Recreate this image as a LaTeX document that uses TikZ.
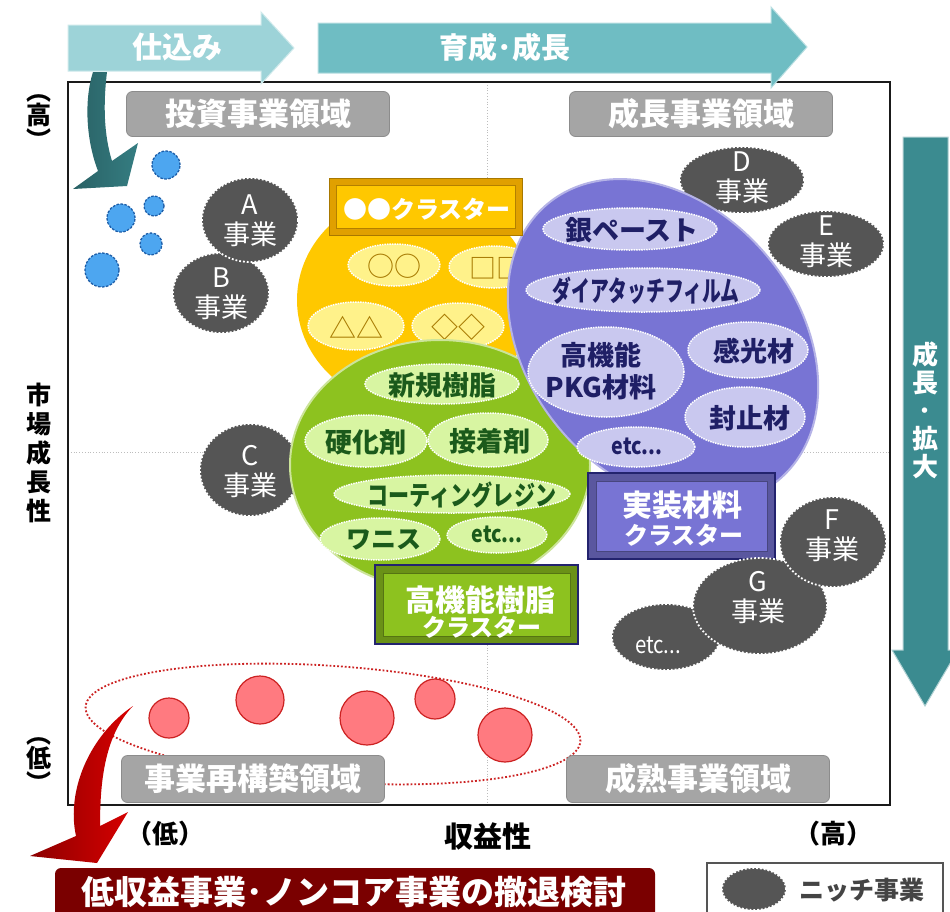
\documentclass[tikz,border=0pt]{standalone}
\usepackage{fontspec}
\setmainfont{Noto Sans CJK JP}
\usetikzlibrary{shapes.geometric}
\definecolor{frameblack}{HTML}{1A1A1A}
\definecolor{guide}{HTML}{BDBDBD}
\definecolor{arrowA}{HTML}{9DD3D8}
\definecolor{arrowB}{HTML}{6FBDC3}
\definecolor{arrowC}{HTML}{3B8B90}
\definecolor{regiongray}{HTML}{A5A5A5}
\definecolor{nichegray}{HTML}{555555}
\definecolor{bluedot}{HTML}{4DA6F0}
\definecolor{bluedotline}{HTML}{1E5EA8}
\definecolor{reddot}{HTML}{FF7A80}
\definecolor{reddotline}{HTML}{CC2222}
\definecolor{yellowbig}{HTML}{FFC800}
\definecolor{yellowin}{HTML}{FFF28A}
\definecolor{yellowtext}{HTML}{A67800}
\definecolor{yellowbox}{HTML}{E0A000}
\definecolor{greenbig}{HTML}{8DC21F}
\definecolor{greenin}{HTML}{D8F5A2}
\definecolor{greentext}{HTML}{1B5A1B}
\definecolor{purplebig}{HTML}{7874D4}
\definecolor{purplein}{HTML}{C9C8EF}
\definecolor{purpletext}{HTML}{1F1F66}
\definecolor{navy}{HTML}{23236E}
\definecolor{darkred}{HTML}{7A0000}
\begin{document}
\begin{tikzpicture}[x=1pt,y=-1pt,
  fs/.style 2 args={font=\fontsize{#1}{#2}\selectfont},
  fsb/.style 2 args={font=\fontsize{#1}{#2}\selectfont\bfseries},
  region/.style={fill=regiongray, draw=regiongray!85!black, line width=0.8pt, rounded corners=6pt, text=white, minimum width=263, minimum height=45, inner sep=0pt, fsb={31}{31}},
  niche/.style={fill=nichegray, draw=white, line width=1.8pt, dotted},
  nichetxt/.style={text=white, align=center, inner sep=0pt, fs={27}{30}},
  bdot/.style={fill=bluedot, draw=bluedotline, line width=1.3pt, dash pattern=on 2.5pt off 1.5pt},
  rdot/.style={fill=reddot, draw=reddotline, line width=1.2pt},
  yell/.style={fill=yellowin, draw=white, line width=1.5pt, densely dotted},
  grel/.style={fill=greenin, draw=white, line width=1.5pt, densely dotted},
  purel/.style={fill=purplein, draw=white, line width=1.5pt, densely dotted},
  ytxt/.style={text=yellowtext, inner sep=0pt, fs={27}{27}},
  gtxt/.style={text=greentext, inner sep=0pt, align=center, fsb={27}{27}},
  ptxt/.style={text=purpletext, inner sep=0pt, align=center, fsb={27}{32}},
  wtxt/.style={text=white, inner sep=0pt, align=center},
  axis/.style={text=black, inner sep=0pt, align=center},
  bandA/.style={fill=arrowA, draw=arrowA!50!white, line width=1pt},
  bandB/.style={fill=arrowB, draw=arrowB!50!white, line width=1pt},
  bandC/.style={fill=arrowC, draw=arrowC!40!white, line width=1pt}
]
\useasboundingbox (0,0) rectangle (950,911);
\clip (0,0) rectangle (950,911);
\fill[white] (0,0) rectangle (950,911);

% guides and frame
\draw[guide, dotted, line width=0.8pt] (487,82) -- (487,805);
\draw[guide, dotted, line width=0.8pt] (68,452) -- (890,452);
\draw[frameblack, line width=2.5pt] (68,82) rectangle (890,805);

% top arrows
\draw[bandA] (68,25) -- (261,25) -- (261,12) -- (294,48) -- (261,84) -- (261,71) -- (68,71) -- cycle;
\node[wtxt, fsb={30}{30}] (shikomi) at (177,47) {仕込み};
\draw[bandB] (318,23) -- (771,23) -- (771,7) -- (807,47) -- (771,88) -- (771,73) -- (318,73) -- cycle;
\node[wtxt, fsb={29}{29}] (ikusei) at (505,47) {育成･成長};

% right arrow
\draw[bandC] (903,137) -- (948,137) -- (948,650) -- (958,650) -- (925,706) -- (892,650) -- (903,650) -- cycle;
\node[wtxt, fsb={26}{28}] (kakudai) at (925,410) {成\\長\\･\\拡\\大};

% axis labels
\node[axis, fsb={25}{19}] (yhigh) at (39,122) {︵\\高\\︶};
\node[axis, fsb={25}{29}] (ylab) at (39,453) {市\\場\\成\\長\\性};
\node[axis, fsb={25}{19}] (ylow) at (39,765) {︵\\低\\︶};
\node[axis, fsb={26}{26}] (xlow) at (165,834) {（低）};
\node[axis, fsb={29}{29}] (xlab) at (488,836) {収益性};
\node[axis, fsb={26}{26}] (xhigh) at (833,834) {（高）};

% region labels (top)
\node[region] (invest) at (258,114) {投資事業領域};
\node[region] (growth) at (701,114) {成長事業領域};

% blue dots
\draw[bdot] (166,165) circle[radius=14pt];
\draw[bdot] (154,206) circle[radius=10pt];
\draw[bdot] (121,218) circle[radius=14pt];
\draw[bdot] (151,244) circle[radius=11pt];
\draw[bdot] (102,270) circle[radius=17pt];

% niche businesses
\path[niche] (221,293) ellipse[x radius=48pt, y radius=40pt];
\node[nichetxt] (bizB) at (221,294) {B\\事業};
\path[niche] (250,220) ellipse[x radius=48pt, y radius=42pt];
\node[nichetxt] (bizA) at (250,221) {A\\事業};
\path[niche] (250,470) ellipse[x radius=50pt, y radius=46pt];
\node[nichetxt] (bizC) at (250,472) {C\\事業};
\path[niche] (742,180) ellipse[x radius=62pt, y radius=33pt];
\node[nichetxt] (bizD) at (742,178) {D\\事業};
\path[niche] (826,244) ellipse[x radius=58pt, y radius=33pt];
\node[nichetxt] (bizE) at (826,242) {E\\事業};

% yellow cluster
\path[fill=yellowbig] (415,300) ellipse[x radius=118pt, y radius=108pt];
\path[yell] (394,265) ellipse[x radius=46pt, y radius=21pt];
\node[ytxt] (yo) at (394,266) {○○};
\path[yell] (494,267) ellipse[x radius=45pt, y radius=21pt];
\node[ytxt] (ys) at (496,268) {□□};
\path[yell] (356,326) ellipse[x radius=48pt, y radius=24pt];
\node[ytxt] (yt) at (356,327) {△△};
\path[yell] (458,326) ellipse[x radius=46pt, y radius=23pt];
\node[ytxt] (yd) at (458,327) {◇◇};

% green cluster
\path[fill=greenbig, draw=greenbig!45!white, line width=2pt] (440,465) ellipse[x radius=150pt, y radius=125pt];
\path[grel] (442,384) ellipse[x radius=77pt, y radius=20pt];
\node[gtxt] (g1) at (442,385) {新規樹脂};
\path[grel] (366,441) ellipse[x radius=61pt, y radius=26pt];
\node[gtxt] (g2) at (366,442) {硬化剤};
\path[grel] (488,440) ellipse[x radius=60pt, y radius=27pt];
\node[gtxt] (g3) at (490,441) {接着剤};
\path[grel] (452,494) ellipse[x radius=118pt, y radius=19pt];
\node[gtxt] (g4) at (462,495) {\scalebox{0.78}[1]{コーティングレジン}};
\path[grel] (380,539) ellipse[x radius=60pt, y radius=21pt];
\node[gtxt, fsb={25}{25}] (g5) at (384,540) {ワニス};
\path[grel] (497,535) ellipse[x radius=50pt, y radius=18pt];
\node[gtxt, fsb={23}{23}] (g6) at (497,534) {\scalebox{0.85}[1]{etc...}};

% purple cluster
\path[fill=purplebig, draw=purplebig!55!white, line width=2pt, rotate around={-50:(663,342)}] (663,342) ellipse[x radius=180pt, y radius=135pt];
\path[purel] (630,229) ellipse[x radius=87pt, y radius=21pt];
\node[ptxt] (p1) at (632,230) {銀ペースト};
\path[purel] (643,290) ellipse[x radius=117pt, y radius=22pt];
\node[ptxt, fsb={28}{28}] (p2) at (646,291) {\scalebox{0.67}[1]{ダイアタッチフィルム}};
\path[purel] (606,372) ellipse[x radius=78pt, y radius=45pt];
\node[ptxt] (p3) at (601,371) {高機能\\PKG材料};
\path[purel] (748,350) ellipse[x radius=60pt, y radius=28pt];
\node[ptxt] (p4) at (754,351) {感光材};
\path[purel] (745,417) ellipse[x radius=60pt, y radius=30pt];
\node[ptxt] (p5) at (750,418) {封止材};
\path[purel] (636,447) ellipse[x radius=59pt, y radius=20pt];
\node[ptxt, fsb={23}{23}] (p6) at (637,446) {\scalebox{0.85}[1]{etc...}};

% yellow title box
\draw[fill=yellowbox, draw=yellowbox!75!black, line width=1pt] (329,178) rectangle (522,235);
\draw[fill=yellowbig, draw=yellowbox!80!black, line width=0.8pt] (336,185) rectangle (515,228);
\node[wtxt, fsb={24}{24}] (ytitle) at (427,209) {●●クラスター};

% green title box
\draw[fill=greenbig!75!black, draw=navy, line width=2pt] (375,565) rectangle (578,644);
\draw[fill=greenbig, draw=greenbig!60!black, line width=0.8pt] (383,573) rectangle (570,636);
\node[wtxt, fsb={30}{30}] (gtitle1) at (480,600) {高機能樹脂};
\node[wtxt, fsb={24}{24}] (gtitle2) at (482,627) {クラスター};

% purple title box
\draw[fill=purplebig!75!black, draw=navy, line width=2pt] (588,473) rectangle (775,559);
\draw[fill=purplebig, draw=purplebig!60!black, line width=0.8pt] (596,481) rectangle (767,551);
\node[wtxt, fsb={30}{30}] (ptitle1) at (682,505) {実装材料};
\node[wtxt, fsb={24}{24}] (ptitle2) at (684,535) {クラスター};

% niche lower right
\path[niche] (666,637) ellipse[x radius=54pt, y radius=33pt];
\node[nichetxt, fs={24}{24}] (bizEtc) at (658,645) {\scalebox{0.85}[1]{etc...}};
\path[niche] (760,606) ellipse[x radius=67pt, y radius=48pt];
\node[nichetxt] (bizG) at (758,598) {G\\事業};
\path[niche] (833,542) ellipse[x radius=53pt, y radius=45pt];
\node[nichetxt] (bizF) at (832,536) {F\\事業};

% restructuring group
\draw[reddotline, dotted, line width=1.8pt, rotate around={-4:(333,724)}] (333,724) ellipse[x radius=248pt, y radius=58pt];
\draw[rdot] (169,718) circle[radius=20pt];
\draw[rdot] (260,700) circle[radius=24pt];
\draw[rdot] (367,718) circle[radius=27pt];
\draw[rdot] (435,699) circle[radius=20pt];
\draw[rdot] (505,735) circle[radius=27pt];

% region labels (bottom)
\node[region, minimum height=47] (restruct) at (253,779) {事業再構築領域};
\node[region, minimum height=47] (mature) at (698,779) {成熟事業領域};

% withdrawal box
\fill[darkred, rounded corners=6pt] (55,868) rectangle (655,935);
\node[wtxt, fsb={33}{33}] (withdraw) at (354,892) {低収益事業･ノンコア事業の撤退検討};

% legend
\draw[draw=nichegray, fill=white, line width=2.5pt] (707,863) rectangle (943,935);
\path[niche] (754,889) ellipse[x radius=32pt, y radius=21pt];
\node[text=nichegray!80!black, inner sep=0pt, fsb={25}{25}] (legend) at (862,890) {ニッチ事業};

% curved arrows
\shade[left color=black!30!arrowC, middle color=arrowA!60!white, right color=arrowC!90!black]
  (93,72) -- (107,72) .. controls (103,105) and (104,135) .. (112,161) -- (138,143) -- (127,186) -- (73,189) -- (98,171) .. controls (86,140) and (84,100) .. (93,72) -- cycle;
\shade[left color=red!55!black, middle color=red!70!white, right color=red!85!black]
  (133,706) .. controls (105,735) and (100,780) .. (100,826) -- (128,812) -- (97,863) -- (30,856) -- (76,836) .. controls (66,790) and (90,735) .. (133,706) -- cycle;
\end{tikzpicture}
\end{document}
